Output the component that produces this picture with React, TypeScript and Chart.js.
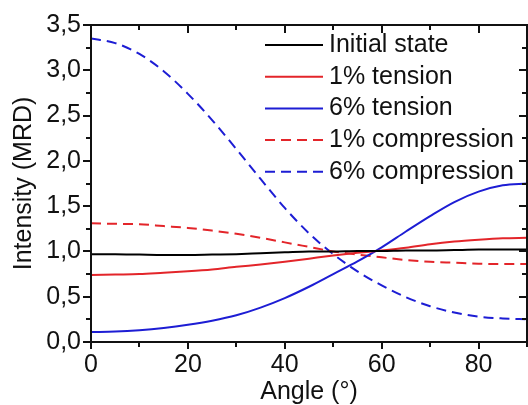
import React, { useEffect, useRef } from 'react';
import { Chart, registerables } from 'chart.js';

Chart.register(...registerables);

const angles = [0, 5, 10, 15, 20, 25, 30, 35, 40, 45, 50, 55, 60, 65, 70, 75, 80, 85, 90];
const initialState = [0.97, 0.97, 0.965, 0.96, 0.96, 0.965, 0.97, 0.98, 0.99, 1.0, 1.0, 1.005, 1.005, 1.01, 1.01, 1.015, 1.02, 1.02, 1.02];
const tension1 = [0.74, 0.745, 0.75, 0.765, 0.78, 0.8, 0.83, 0.855, 0.885, 0.92, 0.955, 0.985, 1.01, 1.04, 1.08, 1.11, 1.13, 1.145, 1.15];
const tension6 = [0.11, 0.115, 0.13, 0.155, 0.19, 0.235, 0.295, 0.38, 0.485, 0.61, 0.75, 0.89, 1.045, 1.22, 1.39, 1.545, 1.66, 1.73, 1.75];
const compression1 = [1.31, 1.305, 1.3, 1.28, 1.26, 1.23, 1.195, 1.15, 1.1, 1.05, 1.0, 0.965, 0.935, 0.905, 0.885, 0.875, 0.865, 0.86, 0.86];
const compression6 = [3.35, 3.3, 3.18, 2.99, 2.74, 2.45, 2.13, 1.8, 1.48, 1.2, 0.97, 0.78, 0.625, 0.495, 0.395, 0.325, 0.28, 0.26, 0.25];

const seriesLabels = ['Initial state', '1% tension', '6% tension', '1% compression', '6% compression'];
const xTickValues = [0, 20, 40, 60, 80];
const xMinorValues = [0, 10, 20, 30, 40, 50, 60, 70, 80, 90];
const yMinorValues = [0, 0.25, 0.5, 0.75, 1, 1.25, 1.5, 1.75, 2, 2.25, 2.5, 2.75, 3, 3.25, 3.5];

const RED = '#e3252a';
const BLUE = '#1d1dd4';
const FONT = 'Liberation Sans, Arial, sans-serif';

export default function App() {
  const ref = useRef<HTMLCanvasElement>(null);

  useEffect(() => {
    const canvas = ref.current;
    if (!canvas) return;
    const pts = (arr: number[]) => angles.map((a, i) => ({ x: a, y: arr[i] }));

    const framePlugin = {
      id: 'frameAndLegend',
      afterDraw(chart: any) {
        const { ctx, chartArea } = chart;
        const { left, right, top, bottom } = chartArea;
        const xs = chart.scales.x;
        const ys = chart.scales.y;
        ctx.save();
        ctx.strokeStyle = '#111';
        ctx.lineWidth = 2;
        ctx.strokeRect(left, top, right - left, bottom - top);
        ctx.beginPath();
        xMinorValues.forEach((v) => {
          const px = Math.round(xs.getPixelForValue(v));
          const major = v % 20 === 0;
          const lb = major ? 7 : 5;
          ctx.moveTo(px, bottom);
          ctx.lineTo(px, bottom + lb);
          const lt = major ? 8 : 5;
          ctx.moveTo(px, top);
          ctx.lineTo(px, top + lt);
        });
        yMinorValues.forEach((v) => {
          const py = Math.round(ys.getPixelForValue(v));
          const major = Math.abs(v * 2 - Math.round(v * 2)) < 1e-6;
          const l = major ? 8 : 5;
          ctx.moveTo(left, py);
          ctx.lineTo(left - l, py);
          ctx.moveTo(right, py);
          ctx.lineTo(right - l, py);
        });
        ctx.stroke();

        ctx.font = `25px ${FONT}`;
        ctx.textBaseline = 'middle';
        ctx.textAlign = 'left';
        chart.data.datasets.forEach((ds: any, i: number) => {
          const y = 45 + i * 31.7;
          ctx.beginPath();
          ctx.strokeStyle = ds.borderColor;
          ctx.lineWidth = 2;
          ctx.setLineDash(ds.borderDash || []);
          ctx.moveTo(265, y);
          ctx.lineTo(323, y);
          ctx.stroke();
          ctx.setLineDash([]);
          ctx.fillStyle = '#111';
          ctx.fillText(ds.label, 329, y);
        });
        ctx.restore();
      },
    };

    const chart = new Chart(canvas, {
      type: 'line',
      data: {
        datasets: [
          { label: seriesLabels[0], data: pts(initialState), borderColor: '#000', borderWidth: 2, pointRadius: 0, cubicInterpolationMode: 'monotone' },
          { label: seriesLabels[1], data: pts(tension1), borderColor: RED, borderWidth: 2, pointRadius: 0, cubicInterpolationMode: 'monotone' },
          { label: seriesLabels[2], data: pts(tension6), borderColor: BLUE, borderWidth: 2, pointRadius: 0, cubicInterpolationMode: 'monotone' },
          { label: seriesLabels[3], data: pts(compression1), borderColor: RED, borderWidth: 2, borderDash: [10, 6], pointRadius: 0, cubicInterpolationMode: 'monotone' },
          { label: seriesLabels[4], data: pts(compression6), borderColor: BLUE, borderWidth: 2, borderDash: [10, 6], pointRadius: 0, cubicInterpolationMode: 'monotone' },
        ] as any,
      },
      options: {
        animation: false,
        responsive: false,
        devicePixelRatio: 1,
        layout: { padding: { left: 0, right: 1, top: 24, bottom: 0 } },
        plugins: { legend: { display: false }, tooltip: { enabled: false } },
        scales: {
          x: {
            type: 'linear',
            min: 0,
            max: 90,
            grid: { display: false, drawTicks: false },
            border: { display: false },
            afterBuildTicks: (scale: any) => {
              scale.ticks = xTickValues.map((v) => ({ value: v }));
            },
            afterFit: (scale: any) => {
              scale.height = 63;
            },
            ticks: { color: '#111', padding: 8, maxRotation: 0, font: { family: FONT, size: 25 } },
            title: { display: true, text: 'Angle (°)', color: '#111', padding: { top: 0, bottom: 0 }, font: { family: FONT, size: 25, lineHeight: 1 } },
          },
          y: {
            type: 'linear',
            min: 0,
            max: 3.5,
            grid: { display: false, drawTicks: false },
            border: { display: false },
            ticks: {
              stepSize: 0.5,
              color: '#111',
              padding: 10,
              font: { family: FONT, size: 25 },
              callback: (v: any) => Number(v).toFixed(1).replace('.', ','),
            },
            afterFit: (scale: any) => {
              scale.width = 91;
            },
            title: { display: true, text: 'Intensity (MRD)', color: '#111', padding: { top: 11.5, bottom: 0 }, font: { family: FONT, size: 25, lineHeight: 1 } },
          },
        },
      } as any,
      plugins: [framePlugin],
    });
    return () => chart.destroy();
  }, []);

  return (
    <canvas
      ref={ref}
      width={528}
      height={405}
      style={{ position: 'absolute', left: 0, top: 0, display: 'block', width: 528, height: 405 }}
    />
  );
}
